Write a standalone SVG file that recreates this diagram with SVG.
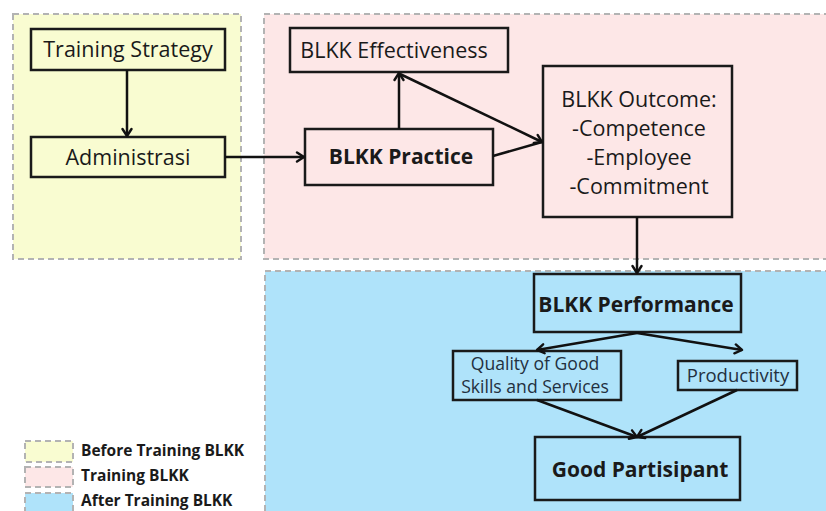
<svg xmlns="http://www.w3.org/2000/svg" width="826" height="511" viewBox="0 0 826 511">
  <defs>
    <marker id="arrow" viewBox="0 0 12 12" refX="10" refY="6" markerWidth="12" markerHeight="12" markerUnits="userSpaceOnUse" orient="auto">
      <path d="M3,1.5 L10,6 L3,10.5" fill="none" stroke="#111" stroke-width="2.4" stroke-linecap="round" stroke-linejoin="round"/>
    </marker>
    <style>
      .zone { stroke: #b3b3b3; stroke-width: 2; stroke-dasharray: 6 4; }
      .before { fill: #f9fcd1; }
      .during { fill: #fde7e7; }
      .after { fill: #afe3fa; }
      .box { stroke: #1a1a1a; stroke-width: 2.5; fill: none; }
      .t { font-family: "Open Sans", "Liberation Sans", sans-serif; fill: #1a1a1a; text-anchor: middle; }
      .reg { font-size: 21.5px; }
      .sm { font-size: 17.6px; fill: #233040; }
      .bold { font-weight: 700; font-size: 21px; }
      .legend { font-family: "Open Sans", "Liberation Sans", sans-serif; font-weight: 700; font-size: 15.5px; fill: #1a1a1a; }
      .conn { stroke: #111; stroke-width: 2.5; fill: none; }
    </style>
  </defs>

  <rect width="826" height="511" fill="#ffffff"/>

  <!-- stage zones -->
  <g id="zones">
    <rect class="zone before" x="13" y="14" width="228" height="245"/>
    <rect class="zone during" x="264" y="14" width="570" height="245"/>
    <rect class="zone after" x="265" y="271" width="570" height="250"/>
  </g>

  <!-- nodes -->
  <g id="training-strategy">
    <rect class="box" x="31" y="29" width="194" height="41"/>
    <text class="t reg" x="128" y="57">Training Strategy</text>
  </g>
  <g id="administrasi">
    <rect class="box" x="31" y="137" width="194" height="40"/>
    <text class="t reg" x="128" y="165">Administrasi</text>
  </g>
  <g id="blkk-effectiveness">
    <rect class="box" x="290" y="28" width="218" height="44"/>
    <text class="t reg" x="394" y="58">BLKK Effectiveness</text>
  </g>
  <g id="blkk-practice">
    <rect class="box" x="305" y="129" width="188" height="56"/>
    <text class="t bold" x="401" y="164">BLKK Practice</text>
  </g>
  <g id="blkk-outcome">
    <rect class="box" x="543" y="66" width="189" height="151"/>
    <text class="t reg" x="639" y="107">BLKK Outcome:</text>
    <text class="t reg" x="639" y="136">-Competence</text>
    <text class="t reg" x="639" y="165">-Employee</text>
    <text class="t reg" x="639" y="194">-Commitment</text>
  </g>
  <g id="blkk-performance">
    <rect class="box" x="534" y="274" width="207" height="58"/>
    <text class="t bold" x="636" y="312">BLKK Performance</text>
  </g>
  <g id="quality">
    <rect class="box" x="453" y="351" width="168" height="49"/>
    <text class="t sm" x="535" y="370">Quality of Good</text>
    <text class="t sm" x="535" y="393">Skills and Services</text>
  </g>
  <g id="productivity">
    <rect class="box" x="678" y="361" width="119" height="29"/>
    <text class="t sm" x="738" y="382" style="font-size:18.5px">Productivity</text>
  </g>
  <g id="good-partisipant">
    <rect class="box" x="535" y="437" width="205" height="63"/>
    <text class="t bold" x="640" y="477">Good Partisipant</text>
  </g>

  <!-- connectors -->
  <g id="connectors">
    <line class="conn" x1="127" y1="70" x2="127" y2="136" marker-end="url(#arrow)"/>
    <line class="conn" x1="225" y1="157" x2="304" y2="157" marker-end="url(#arrow)"/>
    <line class="conn" x1="399" y1="129" x2="399" y2="73" marker-end="url(#arrow)"/>
    <line class="conn" x1="400" y1="74" x2="542" y2="142" marker-end="url(#arrow)"/>
    <line class="conn" x1="493" y1="156" x2="542" y2="142"/>
    <line class="conn" x1="637" y1="217" x2="637" y2="273" marker-end="url(#arrow)"/>
    <line class="conn" x1="637" y1="333" x2="537" y2="350" marker-end="url(#arrow)"/>
    <line class="conn" x1="637" y1="333" x2="742" y2="350" marker-end="url(#arrow)"/>
    <line class="conn" x1="537" y1="400" x2="637" y2="437" marker-end="url(#arrow)"/>
    <line class="conn" x1="737" y1="390" x2="637" y2="437" marker-end="url(#arrow)"/>
  </g>

  <!-- legend -->
  <g id="legend">
    <rect class="zone before" x="25" y="441" width="48" height="21"/>
    <rect class="zone during" x="25" y="467" width="48" height="20"/>
    <rect class="zone after" x="25" y="493" width="48" height="22"/>
    <text class="legend" x="81" y="456">Before Training BLKK</text>
    <text class="legend" x="81" y="481">Training BLKK</text>
    <text class="legend" x="81" y="506">After Training BLKK</text>
  </g>
</svg>
